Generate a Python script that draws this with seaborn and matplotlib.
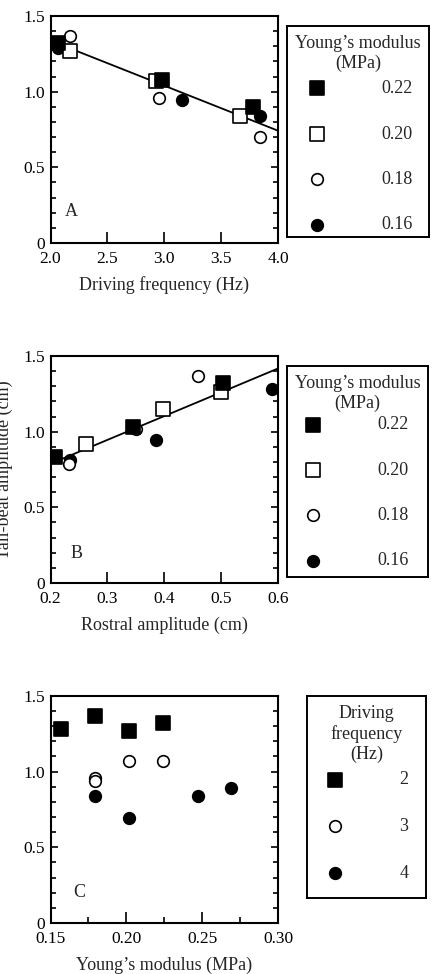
import numpy as np
import matplotlib
matplotlib.use('Agg')
import matplotlib.pyplot as plt
import seaborn as sns
from matplotlib.ticker import MultipleLocator, FuncFormatter

# --- data ---
# A: driving frequency (Hz) -> tail-beat amplitude (cm), one series per Young's modulus
freq_022 = [2.07, 2.98, 3.78]
amp_a_022 = [1.32, 1.08, 0.90]
freq_020 = [2.17, 2.93, 3.67]
amp_a_020 = [1.27, 1.07, 0.84]
freq_018 = [2.17, 2.95, 3.84]
amp_a_018 = [1.37, 0.96, 0.70]
freq_016 = [2.07, 3.16, 3.84]
amp_a_016 = [1.29, 0.945, 0.84]

# B: rostral amplitude (cm) -> tail-beat amplitude (cm)
rostral_022 = [0.208, 0.345, 0.504]
amp_b_022 = [0.83, 1.03, 1.32]
rostral_020 = [0.263, 0.397, 0.499]
amp_b_020 = [0.916, 1.148, 1.264]
rostral_018 = [0.232, 0.351, 0.460]
amp_b_018 = [0.786, 1.015, 1.368]
rostral_016 = [0.235, 0.385, 0.589]
amp_b_016 = [0.81, 0.945, 1.28]

# C: Young's modulus (MPa) -> tail-beat amplitude (cm), one series per driving frequency
modulus_2hz = [0.157, 0.1796, 0.202, 0.224]
amp_c_2hz = [1.28, 1.368, 1.27, 1.32]
modulus_3hz = [0.1796, 0.1796, 0.202, 0.224]
amp_c_3hz = [0.96, 0.94, 1.07, 1.073]
modulus_4hz = [0.1796, 0.202, 0.247, 0.269]
amp_c_4hz = [0.841, 0.696, 0.839, 0.894]

modulus_labels = ['0.22', '0.20', '0.18', '0.16']
freq_labels = ['2', '3', '4']

# --- style ---
sns.set_style('ticks')
plt.rcParams['font.family'] = ['Liberation Serif', 'DejaVu Serif']
FS = 13
TICK_FS = 12.5
SQ = 92
CI = 70

# marker, face colour, size
style_mod = {'0.22': ('s', 'black', SQ), '0.20': ('s', 'white', SQ),
             '0.18': ('o', 'white', CI), '0.16': ('o', 'black', CI)}
style_freq = {'2': ('s', 'black', SQ), '3': ('o', 'white', CI), '4': ('o', 'black', CI)}

fig = plt.figure(figsize=(4.38, 9.74), dpi=100)


def scatter(ax, xs, ys, st):
    marker, face, size = st
    sns.scatterplot(x=xs, y=ys, ax=ax, marker=marker, s=size, color=face,
                    edgecolor='black', linewidth=1.2, zorder=3)
    return ax.collections[-1]


def style_axes(ax, xlim, xmajor, xminor, xfmt, letter, letter_xy):
    ax.set_xlim(xlim)
    ax.set_ylim(0, 1.5)
    ax.xaxis.set_major_locator(MultipleLocator(xmajor))
    if xminor:
        ax.xaxis.set_minor_locator(MultipleLocator(xminor))
    ax.xaxis.set_major_formatter(FuncFormatter(lambda v, p: xfmt.format(v)))
    ax.yaxis.set_major_locator(MultipleLocator(0.5))
    ax.yaxis.set_minor_locator(MultipleLocator(0.1))
    ax.yaxis.set_major_formatter(FuncFormatter(lambda v, p: '0' if abs(v) < 1e-9 else f'{v:.1f}'))
    ax.tick_params(axis='y', which='both', direction='in', left=True, right=True,
                   width=1.2, labelsize=TICK_FS, pad=4, colors='black')
    ax.tick_params(axis='y', which='major', length=5)
    ax.tick_params(axis='y', which='minor', length=3.5)
    ax.tick_params(axis='x', which='both', direction='in', bottom=True, top=False,
                   width=1.2, labelsize=TICK_FS, pad=5.5, colors='black')
    ax.tick_params(axis='x', which='major', length=8)
    ax.tick_params(axis='x', which='minor', length=4.5)
    for s in ax.spines.values():
        s.set_visible(True)
        s.set_linewidth(1.5)
        s.set_color('black')
    ax.text(letter_xy[0], letter_xy[1], letter, transform=ax.transAxes,
            ha='center', va='center', fontsize=FS)


def legend_box(rect, title, handles, labels, anchor, spacing, title_y):
    lax = fig.add_axes(rect)
    lax.set_xticks([])
    lax.set_yticks([])
    for s in lax.spines.values():
        s.set_visible(True)
        s.set_linewidth(1.4)
        s.set_color('black')
    lax.text(0.5, title_y, title, transform=lax.transAxes, ha='center', va='top',
             fontsize=FS, linespacing=1.22, multialignment='center')
    lax.legend(handles, labels, loc='upper left', bbox_to_anchor=anchor,
               frameon=False, borderpad=0, borderaxespad=0, handlelength=1.5,
               handletextpad=2.8, labelspacing=spacing, fontsize=FS, scatterpoints=1)


# --- panel A ---
ax_a = fig.add_axes([0.1153, 0.7505, 0.5194, 0.2331])
ax_a.set_xlim(2.0, 4.0)
sns.regplot(x=np.concatenate([freq_022, freq_020, freq_018, freq_016]),
            y=np.concatenate([amp_a_022, amp_a_020, amp_a_018, amp_a_016]),
            ax=ax_a, scatter=False, ci=None, truncate=False, color='black',
            line_kws={'linewidth': 1.3, 'zorder': 2})
h_a = {}
for lab, xs, ys in [('0.16', freq_016, amp_a_016), ('0.18', freq_018, amp_a_018),
                    ('0.20', freq_020, amp_a_020), ('0.22', freq_022, amp_a_022)]:
    h_a[lab] = scatter(ax_a, xs, ys, style_mod[lab])
style_axes(ax_a, (2.0, 4.0), 0.5, None, '{:.1f}', 'A', (0.092, 0.137))
ax_a.set_xlabel('Driving frequency (Hz)', fontsize=FS, labelpad=7)
ax_a.set_ylabel('')

# --- panel B ---
ax_b = fig.add_axes([0.1153, 0.4014, 0.5194, 0.2331])
ax_b.set_xlim(0.2, 0.6)
sns.regplot(x=np.concatenate([rostral_022, rostral_020, rostral_018, rostral_016]),
            y=np.concatenate([amp_b_022, amp_b_020, amp_b_018, amp_b_016]),
            ax=ax_b, scatter=False, ci=None, truncate=False, color='black',
            line_kws={'linewidth': 1.3, 'zorder': 2})
h_b = {}
for lab, xs, ys in [('0.16', rostral_016, amp_b_016), ('0.18', rostral_018, amp_b_018),
                    ('0.20', rostral_020, amp_b_020), ('0.22', rostral_022, amp_b_022)]:
    h_b[lab] = scatter(ax_b, xs, ys, style_mod[lab])
style_axes(ax_b, (0.2, 0.6), 0.1, None, '{:.1f}', 'B', (0.115, 0.132))
ax_b.set_xlabel('Rostral amplitude (cm)', fontsize=FS, labelpad=7)
ax_b.set_ylabel('Tail-beat amplitude (cm)', fontsize=FS)
ax_b.yaxis.set_label_coords(-0.167, 0.5)

# --- panel C ---
ax_c = fig.add_axes([0.1153, 0.0524, 0.5194, 0.2331])
h_c = {}
for lab, xs, ys in [('4', modulus_4hz, amp_c_4hz), ('3', modulus_3hz, amp_c_3hz),
                    ('2', modulus_2hz, amp_c_2hz)]:
    h_c[lab] = scatter(ax_c, xs, ys, style_freq[lab])
style_axes(ax_c, (0.15, 0.30), 0.05, 0.025, '{:.2f}', 'C', (0.126, 0.132))
ax_c.set_xlabel('Young\u2019s modulus (MPa)', fontsize=FS, labelpad=7)
ax_c.set_ylabel('')

# --- legends ---
legend_box([0.6553, 0.7567, 0.3242, 0.2166], 'Young\u2019s modulus\n(MPa)',
           [h_a[l] for l in modulus_labels], modulus_labels, (0.116, 0.743), 1.57, 0.958)
legend_box([0.6553, 0.4076, 0.3219, 0.2166], 'Young\u2019s modulus\n(MPa)',
           [h_b[l] for l in modulus_labels], modulus_labels, (0.089, 0.762), 1.57, 0.958)
legend_box([0.7009, 0.0780, 0.2717, 0.2074], 'Driving\nfrequency\n(Hz)',
           [h_c[l] for l in freq_labels], freq_labels, (0.122, 0.627), 1.64, 0.956)

fig.savefig('out.png', dpi=100)
